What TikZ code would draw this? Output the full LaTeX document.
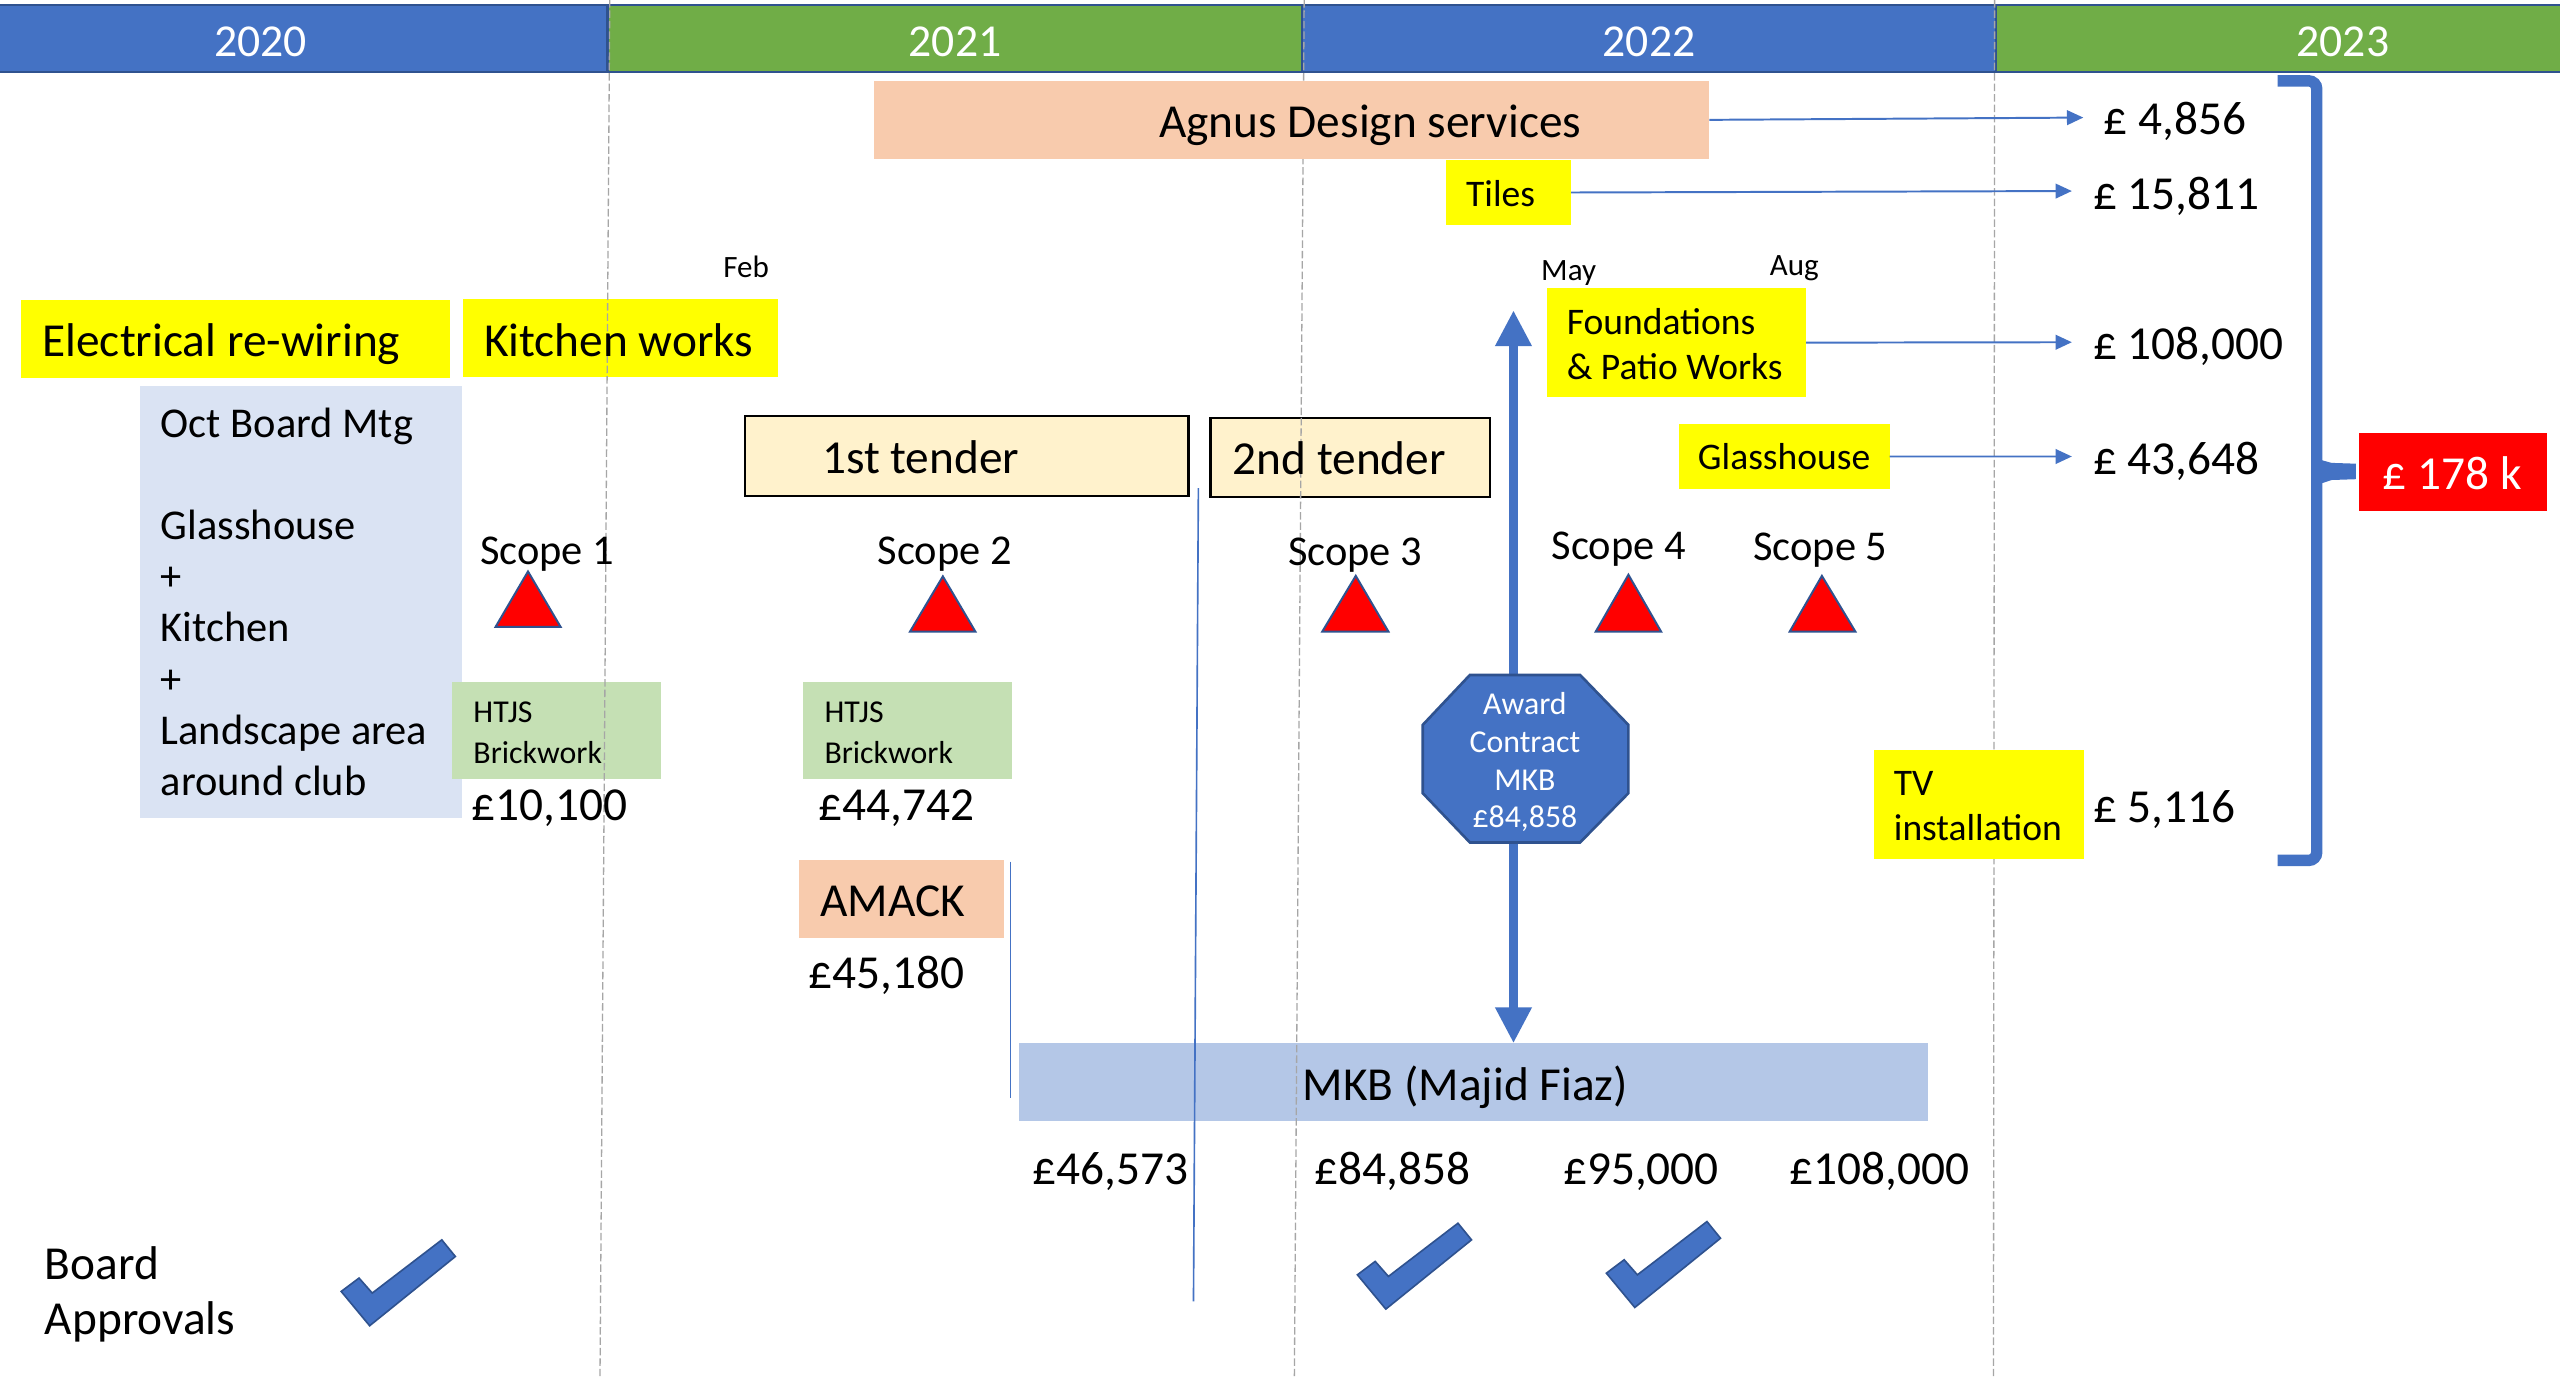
\documentclass[tikz,border=0pt]{standalone}
\usepackage{fontspec}
\setmainfont{Carlito}
\usetikzlibrary{arrows.meta}
\definecolor{cblue}{HTML}{4472C4}
\definecolor{cgreen}{HTML}{70AD47}
\definecolor{cdark}{HTML}{2F528F}
\definecolor{cpeach}{HTML}{F8CBAD}
\definecolor{cyel}{HTML}{FFFF00}
\definecolor{clblue}{HTML}{DAE3F3}
\definecolor{ccream}{HTML}{FFF2CC}
\definecolor{clgreen}{HTML}{C5E0B4}
\definecolor{cmkb}{HTML}{B4C7E7}
\definecolor{cgray}{HTML}{A6A6A6}
\definecolor{cred}{HTML}{FF0000}
\begin{document}
\begin{tikzpicture}[x=0.5pt,y=-0.5pt,
  box/.style={inner sep=0pt,outer sep=0pt,anchor=north west,draw=none},
  txt/.style={inner sep=0pt,outer sep=0pt,anchor=base west},
  fb/.style={font=\fontsize{14.5}{17}\selectfont},
  fy/.style={font=\fontsize{14}{17}\selectfont},
  fm/.style={font=\fontsize{13}{15.6}\selectfont},
  fs/.style={font=\fontsize{11.5}{13.8}\selectfont},
  fx/.style={font=\fontsize{9.75}{11.7}\selectfont},
  fmon/.style={font=\fontsize{9.5}{11.4}\selectfont},
  gridline/.style={draw=cgray,line width=0.4pt,dash pattern=on 2.3pt off 0.9pt},
  thinarr/.style={draw=cblue,line width=0.6pt,-{Triangle[length=5pt,width=4.5pt]}},
  bigarr/.style={draw=cblue,line width=3pt,{Triangle[length=11pt,width=10.5pt]}-{Triangle[length=11pt,width=10.5pt]}},
  tri/.style={fill=cred,draw=cdark,line width=0.6pt},
  chk/.style={fill=cblue,draw=cdark,line width=0.5pt},
  yearseg/.style={box,draw=cdark,line width=0.8pt,minimum width=212.5pt,minimum height=20.5pt},
  thinline/.style={draw=cblue,line width=0.5pt},
  checkpic/.pic={\path[chk] (0,0) -- (10.9,-8.2) -- (19,1) -- (61.6,-31.6) -- (69.9,-21.4) -- (17.4,21) -- cycle;}
]
\useasboundingbox (0,0) rectangle (1568,842.8);
\clip (0,0) rectangle (1568,842.8);
\fill[white] (0,0) rectangle (1568,842.8);

% year bar
\node[yearseg,fill=cblue] (s2020) at (-53,3) {};
\node[yearseg,fill=cgreen] (s2021) at (372.5,3) {};
\node[yearseg,fill=cblue] (s2022) at (797.5,3) {};
\node[yearseg,fill=cgreen] (s2023) at (1222.5,3) {};

% boxes below grid lines
\node[box,fill=cyel,minimum width=38.3pt,minimum height=19.9pt] (tiles) at (885.7,98) {};
\node[box,fill=cyel,minimum width=131.25pt,minimum height=23.8pt] (elec) at (13,183.7) {};
\node[box,fill=cyel,minimum width=96.5pt,minimum height=23.9pt] (kitchen) at (283.5,183) {};
\node[box,fill=cyel,minimum width=79.4pt,minimum height=33.45pt] (found) at (947.5,176.4) {};
\node[box,fill=cyel,minimum width=64.55pt,minimum height=19.9pt] (glass) at (1028.3,259.7) {};
\node[box,fill=clblue,minimum width=98.75pt,minimum height=132.3pt] (oct) at (85.5,236.4) {};
\node[box,fill=ccream,draw=black,line width=0.7pt,minimum width=135.8pt,minimum height=24.3pt] (tender1) at (456.4,255) {};
\node[box,fill=ccream,draw=black,line width=0.7pt,minimum width=85.5pt,minimum height=24.2pt] (tender2) at (741.5,256) {};
\node[box,fill=clgreen,minimum width=64pt,minimum height=29.6pt] (htjs1) at (277,417.7) {};
\node[box,fill=clgreen,minimum width=64pt,minimum height=29.6pt] (htjs2) at (492,417.7) {};
\node[box,fill=cpeach,minimum width=62.75pt,minimum height=23.75pt] (amack) at (489.5,527) {};
\node[box,fill=cmkb,minimum width=278.5pt,minimum height=23.8pt] (mkb) at (624,639) {};

% dashed year lines
\coordinate (d1t) at (373.5,0); \coordinate (d1b) at (367.5,842.8);
\coordinate (d2t) at (798.8,0); \coordinate (d2b) at (792.8,842.8);
\coordinate (d3t) at (1221.7,0); \coordinate (d3b) at (1221,842.8);
\draw[gridline] (d1t) -- (d1b);
\draw[gridline] (d2t) -- (d2b);
\draw[gridline] (d3t) -- (d3b);

% boxes above grid lines
\node[box,fill=cpeach,minimum width=255.75pt,minimum height=23.8pt] (agnus) at (535.5,49.6) {};
\node[box,fill=cyel,minimum width=64.15pt,minimum height=33.5pt] (tv) at (1148,459.3) {};
\node[box,fill=cred,minimum width=57.5pt,minimum height=24pt] (redbox) at (1445,265) {};

% thin blue lines
\coordinate (l1t) at (734,299); \coordinate (l1b) at (731,797);
\coordinate (l2t) at (619,527.7); \coordinate (l2b) at (619,672.5);
\draw[thinline] (l1t) -- (l1b);
\draw[thinline] (l2t) -- (l2b);

% cost arrows
\coordinate (a1) at (1276,72);
\coordinate (a2) at (1269,117);
\coordinate (a3) at (1269,209.6);
\coordinate (a4) at (1269,279.6);
\draw[thinarr] (agnus.east) -- (a1);
\draw[thinarr] (tiles.east) -- (a2);
\draw[thinarr] (found.east) -- (a3);
\draw[thinarr] (glass.east) -- (a4);

% big double arrow and award octagon
\coordinate (arrtop) at (927,190);
\draw[bigarr] (arrtop) -- (arrtop |- mkb.north);
\path[fill=cblue,draw=cdark,line width=0.8pt] (900.3,413.4) -- (967.8,413.4) -- (997.4,444) -- (997.4,485.8) -- (967.8,516) -- (900.3,516) -- (871.4,485.8) -- (871.4,444) -- cycle;
\node[inner sep=0pt] (award) at (934.4,464.7) {};

% brace
\draw[cblue,line width=3.5pt,rounded corners=2.5pt] (1395,49.5) -- (1419,49.5) -- (1419,527) -- (1395,527);
\fill[cblue] (1419,281) -- (1428,283.5) -- (1443,284) -- (1443,293.5) -- (1428,294) -- (1419,297) -- cycle;

% scope triangles
\path[tri] (323.4,350) -- (303.5,384) -- (343.4,384) -- cycle;
\path[tri] (577.5,353) -- (557.4,386.8) -- (597.4,386.8) -- cycle;
\path[tri] (830.4,352.7) -- (809.9,386.8) -- (850.4,386.8) -- cycle;
\path[tri] (997.4,352) -- (977.4,386.8) -- (1017.4,386.8) -- cycle;
\path[tri] (1115.9,352.7) -- (1096.2,386.8) -- (1136.4,386.8) -- cycle;

% check marks
\pic (ck1) at (209,791) {checkpic};
\pic (ck2) at (831.4,780.8) {checkpic};
\pic (ck3) at (983.9,779.8) {checkpic};

% texts
\begin{scope}[yshift=-0.8pt]
\node[txt,anchor=base,fy,text=white] (t2020) at (159.7,32.7) {2020};
\node[txt,anchor=base,fy,text=white] (t2021) at (585,32.7) {2021};
\node[txt,anchor=base,fy,text=white] (t2022) at (1010,32.7) {2022};
\node[txt,anchor=base,fy,text=white] (t2023) at (1435,32.7) {2023};

\node[txt,fb] (tagnus) at (710,82.7) {Agnus Design services};
\node[txt,fb] (v1) at (1288.6,81) {£ 4,856};
\node[txt,fs] (ttiles) at (898,125) {Tiles};
\node[txt,fb] (v2) at (1282,127) {£ 15,811};
\node[txt,fmon] (tfeb) at (443,168.4) {Feb};
\node[txt,fmon] (tmay) at (944,170.5) {May};
\node[txt,fmon] (taug) at (1084,167) {Aug};
\node[txt,fb] (telec) at (26,216.8) {Electrical re-wiring};
\node[txt,fb] (tkitchen) at (296.5,216.8) {Kitchen works};
\node[txt,fs] (tfound1) at (959.7,203) {Foundations};
\node[txt,fs] (tfound2) at (959.7,231) {\& Patio Works};
\node[txt,fb] (v3) at (1282,218.5) {£ 108,000};
\node[txt,fs] (tglass) at (1040,286.2) {Glasshouse};
\node[txt,fb] (v4) at (1282,289) {£ 43,648};
\node[txt,anchor=base,fb,text=white] (tred) at (1502,298) {£ 178 k};

\node[txt,fm] (o1) at (98.5,266.4) {Oct Board Mtg};
\node[txt,fm] (o2) at (98.5,329) {Glasshouse};
\node[txt,fm] (o3) at (98.5,360.3) {+};
\node[txt,fm] (o4) at (98.5,391.6) {Kitchen};
\node[txt,fm] (o5) at (98.5,422.9) {+};
\node[txt,fm] (o6) at (98.5,454.2) {Landscape area};
\node[txt,fm] (o7) at (98.5,485.5) {around club};

\node[txt,fb] (ttender1) at (503.5,288.3) {1st tender};
\node[txt,fb] (ttender2) at (755,288.9) {2nd tender};

\node[txt,fm] (sc1) at (294,344) {Scope 1};
\node[txt,fm] (sc2) at (537.5,344) {Scope 2};
\node[txt,fm] (sc3) at (789,345) {Scope 3};
\node[txt,fm] (sc4) at (950.4,341) {Scope 4};
\node[txt,fm] (sc5) at (1074,342) {Scope 5};

\node[txt,fx] (h1a) at (290,441) {HTJS};
\node[txt,fx] (h1b) at (290,466) {Brickwork};
\node[txt,fx] (h2a) at (505,441) {HTJS};
\node[txt,fx] (h2b) at (505,466) {Brickwork};
\node[txt,fb] (p1) at (289,501) {£10,100};
\node[txt,fb] (p2) at (501.5,501) {£44,742};

\node[txt,anchor=base,fx,text=white] (aw1) at (934,435.8) {Award};
\node[txt,anchor=base,fx,text=white] (aw2) at (934,459.3) {Contract};
\node[txt,anchor=base,fx,text=white] (aw3) at (934,482.8) {MKB};
\node[txt,anchor=base,fx,text=white] (aw4) at (934,505.2) {£84,858};

\node[txt,fs] (ttv1) at (1160,485.5) {TV};
\node[txt,fs] (ttv2) at (1160,513.4) {installation};
\node[txt,fb] (v5) at (1282,502) {£ 5,116};

\node[txt,fb] (tamack) at (502.5,560) {AMACK};
\node[txt,fb] (pamack) at (495,604) {£45,180};
\node[txt,fb] (tmkb) at (798,672.6) {MKB (Majid Fiaz)};

\node[txt,fb] (m1) at (632.5,723.7) {£46,573};
\node[txt,fb] (m2) at (805,723.7) {£84,858};
\node[txt,fb] (m3) at (957.4,723.7) {£95,000};
\node[txt,fb] (m4) at (1096.3,723.7) {£108,000};

\node[txt,fb] (tboard1) at (27.5,781.8) {Board};
\node[txt,fb] (tboard2) at (27.5,815.5) {Approvals};
\end{scope}
\end{tikzpicture}
\end{document}
